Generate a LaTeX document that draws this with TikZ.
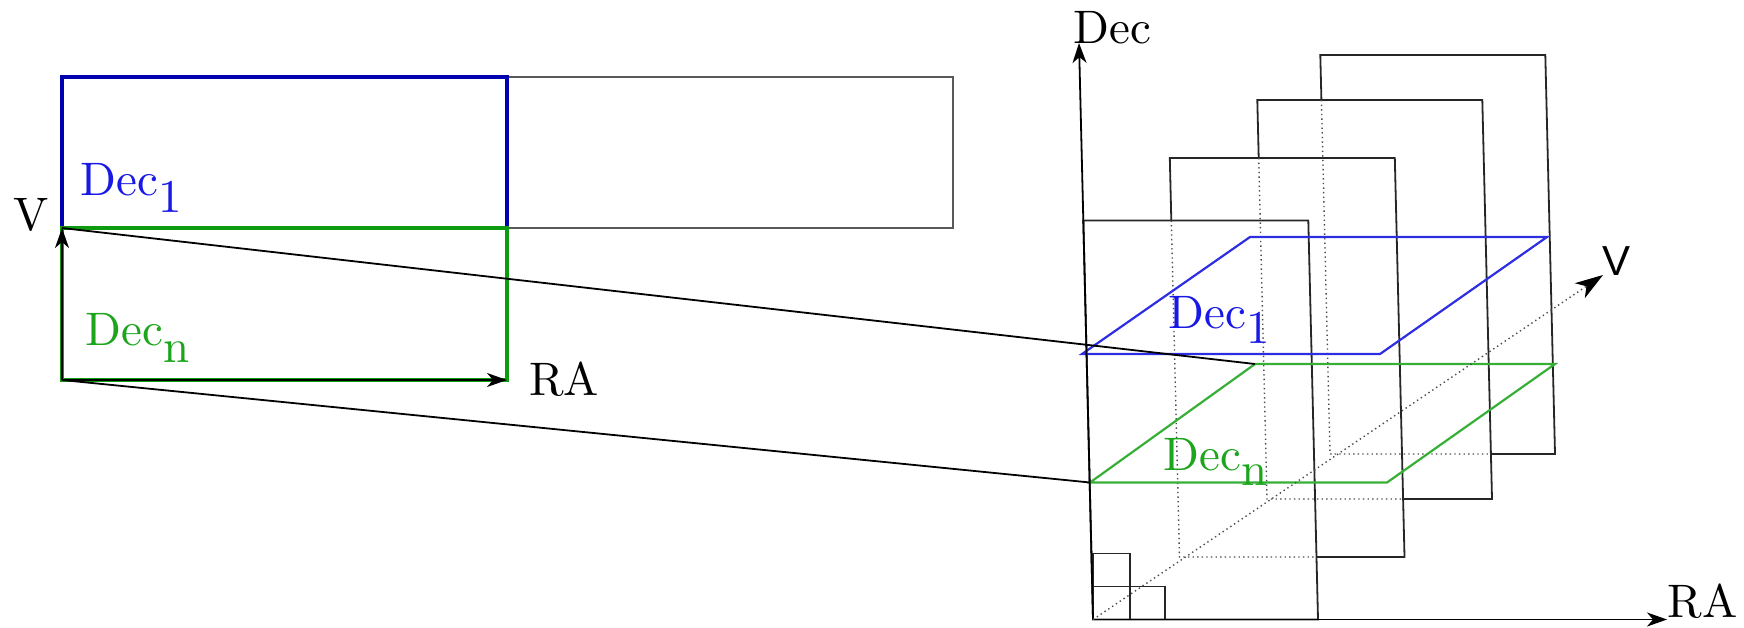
\documentclass[tikz,border=0pt]{standalone}
\usepackage{fontspec}
\newfontfamily\sansV{Liberation Sans}
\newfontfamily\labfont{lmroman10-regular}[Extension=.otf]
\usetikzlibrary{arrows.meta,calc}
\definecolor{rectblue}{RGB}{0,0,175}
\definecolor{rectgreen}{RGB}{15,155,15}
\definecolor{lblue}{RGB}{25,25,230}
\definecolor{lgreen}{RGB}{30,165,30}
\definecolor{pblue}{RGB}{45,45,225}
\definecolor{pgreen}{RGB}{55,175,55}
\begin{document}
\begin{tikzpicture}[x=0.5pt,y=-0.5pt,
  lbl/.style={inner sep=0pt, font=\labfont\fontsize{23.5}{28}\selectfont},
  thickrect/.style={line width=2.4pt},
  thinline/.style={line width=0.9pt, black},
  greyrect/.style={line width=0.9pt, black!65},
  framebox/.style={line width=0.9pt, black!85},
  hidden/.style={line width=0.7pt, black!70, dash pattern=on 0.7pt off 1.6pt},
  arr/.style={-{Stealth[length=10pt,width=7pt,inset=3pt]}},
  plane/.style={line width=1.1pt},
]
\useasboundingbox (0,0) rectangle (1744,627);

% ---------- left panel ----------
\coordinate (LTL) at (62,77);
\coordinate (LTR) at (507,77);
\coordinate (LML) at (62,228);
\coordinate (LMR) at (507,228);
\coordinate (LBL) at (62,380);
\coordinate (LBR) at (507,380);
\coordinate (GTR) at (953,77);
\coordinate (GBR) at (953,228);

\draw[greyrect] (LTR) -- (GTR) -- (GBR) -- (LMR);
\draw[rectblue, thickrect] (LML) -- (LTL) -- (LTR) -- (LMR);
\draw[rectgreen, thickrect] (LML) -- (LMR) -- (LBR) -- (LBL) -- cycle;
\draw[thinline, arr] (LBL) -- (LML);
\draw[thinline, arr] (LBL) -- (LBR);

\node[lbl, anchor=base] (Vl) at (31,230) {V};
\node[lbl, anchor=base west, text=lblue] (D1l) at (80,195) {Dec\raisebox{-8.5pt}{1}};
\node[lbl, anchor=base west, text=lgreen] (Dnl) at (85,345) {Dec\raisebox{-8.5pt}{n}};
\node[lbl, anchor=base west] (RAl) at (529,395) {RA};

% ---------- right panel ----------
\coordinate (O) at (1093,619.5);
\coordinate (DecTip) at (1079,43);
\coordinate (RATip) at (1667,619.5);
\coordinate (VTip) at (1603,275);

% frame 1
\coordinate (F1BL) at (1093,619.5);
\coordinate (F1BR) at (1318,619.5);
\coordinate (F1TR) at (1308.3,220.5);
\coordinate (F1TL) at (1083.3,220.5);
\draw[framebox] (F1BL) -- (F1TL) -- (F1TR) -- (F1BR) -- cycle;
% frame 2
\coordinate (F2BL) at (1179.5,557);
\coordinate (F2BR) at (1404.5,557);
\coordinate (F2TR) at (1394.8,158);
\coordinate (F2TL) at (1169.8,158);
\coordinate (F2L) at (1171.3,220.5);
\coordinate (F2B) at (1316.5,557);
\draw[framebox] (F2L) -- (F2TL) -- (F2TR) -- (F2BR) -- (F2B);
\draw[hidden] (F2L) -- (F2BL) -- (F2B);
% frame 3
\coordinate (F3BL) at (1267,499);
\coordinate (F3BR) at (1492,499);
\coordinate (F3TR) at (1482.3,100);
\coordinate (F3TL) at (1257.3,100);
\coordinate (F3L) at (1258.7,158);
\coordinate (F3B) at (1403.1,499);
\draw[framebox] (F3L) -- (F3TL) -- (F3TR) -- (F3BR) -- (F3B);
\draw[hidden] (F3L) -- (F3BL) -- (F3B);
% frame 4
\coordinate (F4BL) at (1330,454);
\coordinate (F4BR) at (1555,454);
\coordinate (F4TR) at (1545.3,55);
\coordinate (F4TL) at (1320.3,55);
\coordinate (F4L) at (1321.4,100);
\coordinate (F4B) at (1490.9,454);
\draw[framebox] (F4L) -- (F4TL) -- (F4TR) -- (F4BR) -- (F4B);
\draw[hidden] (F4L) -- (F4BL) -- (F4B);

% small squares
\coordinate (S1) at (1093,553.5);
\coordinate (S2) at (1130,586.5);
\coordinate (S3) at (1093,586.5);
\coordinate (S4) at (1165,619.5);
\coordinate (S5) at (1130,619.5);
\draw[framebox] (S1) rectangle (S2);
\draw[framebox] (S3) rectangle (S5);
\draw[framebox] (S2) rectangle (S4);

% planes
\coordinate (PB1) at (1082,354);
\coordinate (PB2) at (1380,354);
\coordinate (PB3) at (1547,237);
\coordinate (PB4) at (1250,237);
\draw[pblue, plane] (PB1) -- (PB2) -- (PB3) -- (PB4) -- cycle;
\coordinate (PG1) at (1090,482.5);
\coordinate (PG2) at (1387,482.5);
\coordinate (PG3) at (1555,364);
\coordinate (PG4) at (1255,364);
\draw[pgreen, plane] (PG1) -- (PG2) -- (PG3) -- (PG4) -- cycle;

% axes
\draw[thinline, arr] (O) -- (DecTip);
\draw[thinline, arr] (O) -- (RATip);
\draw[hidden, -{Stealth[length=14pt,width=9pt,inset=4pt,black,line width=0.5pt]}] (O) -- (VTip);

% projection lines
\draw[thinline] (LML) -- (PG4);
\draw[thinline] (LBL) -- (PG1);

% labels
\node[lbl, anchor=base west] (DecR) at (1073,43) {Dec};
\node[lbl, anchor=base west] (RAR) at (1667,617) {RA};
\node[lbl, anchor=base west, font=\sansV\fontsize{21}{25}\selectfont] (VR) at (1602,275) {V};
\node[lbl, anchor=base west, text=lblue] (D1r) at (1168,328) {Dec\raisebox{-7.5pt}{1}};
\node[lbl, anchor=base west, text=lgreen] (Dnr) at (1163,470) {Dec\raisebox{-7.5pt}{n}};
\end{tikzpicture}
\end{document}
